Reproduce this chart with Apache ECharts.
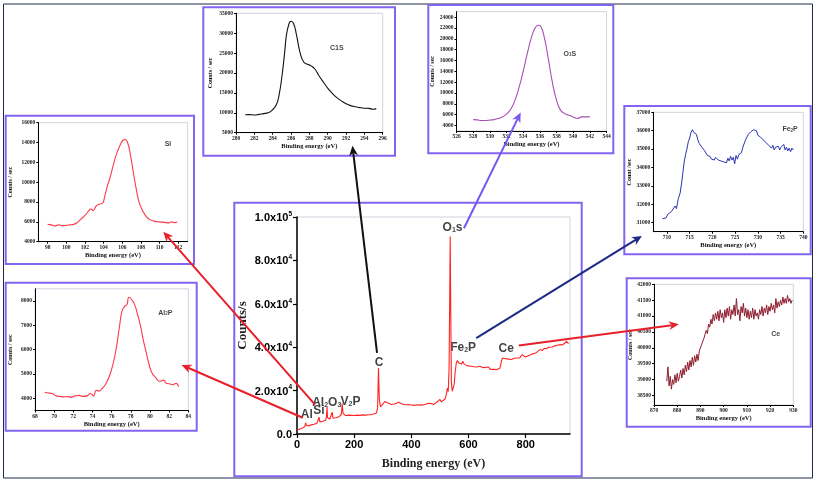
<!DOCTYPE html>
<html><head><meta charset="utf-8">
<script src="https://cdn.jsdelivr.net/npm/echarts@6/dist/echarts.min.js"></script>
<style>html,body{margin:0;padding:0;background:#fff}#c{width:817px;height:483px}</style>
</head><body><div id="c"></div>
<script>
// ---------- DATA ----------
const mainSurvey = [[0,1700],[5,2000],[10,2300],[15,2400],[20,2800],[25,3200],[28,3600],[30,5200],[32,4200],[35,3500],[40,3700],[45,3900],[50,4200],[55,4300],[60,4500],[65,4600],[70,5000],[74,5300],[77,7800],[80,5600],[85,5700],[90,5900],[95,6100],[100,6300],[103,8000],[105,12400],[107,7500],[110,6700],[115,6900],[120,7100],[123,10100],[126,7300],[130,7400],[135,7500],[140,7700],[145,7800],[150,8100],[155,9000],[158,14000],[161,9500],[165,8600],[170,8500],[180,8700],[190,8600],[200,8500],[210,8700],[220,8600],[230,8800],[240,8700],[250,8900],[260,8900],[270,9300],[278,9700],[282,12000],[285,30400],[288,16000],[292,12500],[298,13000],[302,14000],[307,15000],[311,15800],[315,14500],[320,13800],[330,13600],[340,13800],[348,14200],[355,14600],[360,14000],[370,13700],[380,13500],[390,13600],[400,13400],[410,13200],[420,13500],[430,13300],[440,13400],[450,13700],[460,14200],[465,14800],[470,14000],[477,13600],[485,14300],[492,15000],[500,15900],[505,14800],[510,15400],[518,16100],[522,18000],[526,21200],[529,19500],[532,30000],[534,60000],[536,91000],[538,55000],[540,24000],[543,19700],[547,18900],[550,23000],[553,28100],[557,32500],[561,33900],[565,32800],[571,31900],[576,32300],[580,33500],[585,32200],[590,31700],[594,31500],[600,31300],[610,31200],[620,31000],[629,30900],[640,31200],[650,30600],[660,30700],[664,30400],[670,30900],[676,29800],[682,29300],[690,29800],[699,29600],[705,30000],[710,30400],[713,30500],[716,34000],[719,35000],[725,34200],[734,34600],[740,34800],[750,34300],[760,34900],[769,35000],[775,35400],[780,35100],[787,36600],[793,35800],[799,35500],[805,36000],[815,36400],[822,36800],[828,37600],[835,37300],[843,38200],[851,38900],[858,38500],[865,39500],[872,39300],[880,40000],[886,40400],[893,40100],[900,40600],[910,40900],[921,41200],[928,41000],[935,41700],[939,41900],[943,42700],[946,41800],[950,41600]];
const mainXTicks = [0,200,400,600,800];
const mainYTicks = [0,20000,40000,60000,80000,100000];
const mainYTickLabels = ['0.0','2.0x10^4','4.0x10^4','6.0x10^4','8.0x10^4','1.0x10^5'];
const mainPeakLabels = [[544,95500,'O_1s'],[287,33100,'C'],[581,40300,'Fe_2P'],[732,39600,'Ce'],[104,15000,'Al_2O_3'],[77,11200,'Si'],[187,15300,'V_2P'],[34,9200,'Al']];

const c1sData = [[281.0,9500],[281.5,9550],[282.0,9450],[282.5,9600],[283.0,9800],[283.5,10000],[284.0,10800],[284.4,12000],[284.7,14500],[285.0,19000],[285.3,25000],[285.5,29500],[285.8,32500],[286.0,33000],[286.3,32300],[286.6,29500],[287.0,25000],[287.4,22700],[287.8,22200],[288.2,21800],[288.6,21000],[289.0,19500],[289.5,17800],[290.0,16200],[290.5,14900],[291.0,13800],[291.5,13000],[292.0,12300],[292.5,11800],[293.0,11500],[293.5,11300],[294.0,11150],[294.5,11100],[295.0,10900],[295.3,11100]];
const c1sXTicks = [280,282,284,286,288,290,292,294,296];
const c1sYTicks = [5000,10000,15000,20000,25000,30000,35000];

const o1sData = [[528.0,5100],[528.5,5050],[529.0,4950],[529.5,4950],[530.0,5000],[530.5,5100],[531.0,5300],[531.5,5600],[532.0,6100],[532.5,7000],[533.0,8600],[533.5,11000],[534.0,14000],[534.5,17300],[535.0,20300],[535.4,21900],[535.8,22500],[536.1,22300],[536.5,20500],[537.0,16500],[537.5,12000],[538.0,8700],[538.5,6800],[539.0,6200],[539.5,5900],[540.0,5600],[540.5,5300],[541.0,5600],[541.5,5600],[542.0,5650]];
const o1sXTicks = [526,528,530,532,534,536,538,540,542,544];
const o1sYTicks = [4000,6000,8000,10000,12000,14000,16000,18000,20000,22000,24000];

const fe2pData = [[709.0,31200],[709.4,31300],[709.8,31250],[710.2,31450],[710.6,31350],[711.0,31600],[711.4,31500],[711.8,31900],[712.1,31750],[712.5,32300],[712.9,32600],[713.2,33100],[713.5,33700],[713.8,34300],[714.1,34700],[714.4,35000],[714.7,35400],[715.0,35600],[715.3,35900],[715.6,36050],[715.9,35900],[716.2,36000],[716.5,35800],[716.8,35500],[717.1,35300],[717.4,35400],[717.7,35100],[718.0,35050],[718.3,34900],[718.6,34800],[718.9,34650],[719.2,34550],[719.5,34600],[719.8,34450],[720.1,34500],[720.4,34400],[720.7,34550],[721.0,34450],[721.3,34400],[721.6,34500],[721.9,34350],[722.2,34450],[722.5,34300],[722.8,34400],[723.1,34250],[723.4,34500],[723.7,34350],[724.0,34600],[724.3,34400],[724.6,34550],[724.9,34200],[725.2,34650],[725.5,34450],[725.8,34700],[726.1,34600],[726.4,34800],[726.7,35100],[727.0,35200],[727.3,35500],[727.6,35600],[727.9,35800],[728.2,35750],[728.5,35950],[728.8,35900],[729.1,36050],[729.4,35950],[729.7,36000],[730.0,35750],[730.3,35850],[730.6,35650],[730.9,35750],[731.2,35500],[731.5,35600],[731.8,35350],[732.1,35450],[732.4,35200],[732.7,35300],[733.0,35050],[733.3,35200],[733.6,34950],[733.9,35100],[734.2,35000],[734.5,35150],[734.8,34950],[735.1,35100],[735.4,35050],[735.7,35250],[736.0,34950],[736.3,35100],[736.6,34900],[736.9,35050],[737.2,34850],[737.5,35050],[737.8,34950]];
const fe2pXTicks = [710,715,720,725,730,735,740];
const fe2pYTicks = [31000,32000,33000,34000,35000,36000,37000];

const ceData = [[875.5,38950],[876.0,39400],[876.5,38800],[877.0,39100],[877.5,38700],[878.0,39000],[878.5,38850],[879.0,39150],[879.5,38900],[880.0,39200],[880.5,38950],[881.0,39100],[881.5,39300],[882.0,39050],[882.5,39350],[883.0,39150],[883.5,39450],[884.0,39250],[884.5,39550],[885.0,39300],[885.5,39600],[886.0,39400],[886.5,39700],[887.0,39450],[887.5,39750],[888.0,39550],[888.5,39800],[889.0,39600],[889.5,39900],[890.0,39850],[890.5,40100],[891.0,40050],[891.5,40300],[892.0,40250],[892.5,40550],[893.0,40450],[893.5,40750],[894.0,40650],[894.5,40900],[895.0,40750],[895.5,41050],[896.0,40850],[896.5,41100],[897.0,40900],[897.5,41150],[898.0,40850],[898.5,41200],[899.0,40950],[899.5,41100],[900.0,40800],[900.5,41200],[901.0,40950],[901.5,41250],[902.0,41000],[902.5,41300],[903.0,40900],[903.5,41200],[904.0,41050],[904.5,41350],[905.0,41000],[905.5,41550],[906.0,41050],[906.5,41200],[907.0,40850],[907.5,41300],[908.0,41100],[908.5,41400],[909.0,41000],[909.5,41250],[910.0,40950],[910.5,41200],[911.0,40900],[911.5,41150],[912.0,40950],[912.5,41250],[913.0,40900],[913.5,41200],[914.0,41000],[914.5,41100],[915.0,40900],[915.5,41200],[916.0,41050],[916.5,41300],[917.0,41000],[917.5,41250],[918.0,41100],[918.5,41350],[919.0,41050],[919.5,41300],[920.0,41150],[920.5,41400],[921.0,41200],[921.5,41350],[922.0,41100],[922.5,41550],[923.0,41250],[923.5,41450],[924.0,41300],[924.5,41500],[925.0,41350],[925.5,41600],[926.0,41400],[926.5,41550],[927.0,41400],[927.5,41650],[928.0,41450],[928.5,41550],[929.0,41400],[929.5,41500]];
const ceXTicks = [870,880,890,900,910,920,930];
const ceYTicks = [38500,39000,39500,40000,40500,41000,41500,42000];

const siData = [[98.0,5750],[98.4,5700],[98.8,5600],[99.2,5700],[99.6,5620],[100.0,5650],[100.4,5700],[100.8,5750],[101.2,5950],[101.6,6300],[102.0,6650],[102.4,7100],[102.6,7300],[102.9,7150],[103.2,7600],[103.6,7800],[103.9,7900],[104.1,8500],[104.4,9600],[104.7,10500],[105.0,11600],[105.4,12900],[105.8,13800],[106.1,14250],[106.3,14300],[106.6,13900],[106.9,12600],[107.2,10900],[107.5,9300],[107.8,8000],[108.2,7100],[108.6,6500],[109.0,6200],[109.5,6050],[110.0,6000],[110.5,5950],[111.0,5900],[111.3,6000],[111.6,5920],[111.9,6000]];
const siXTicks = [98,100,102,104,106,108,110,112];
const siYTicks = [4000,6000,8000,10000,12000,14000,16000];

const alData = [[69.0,4250],[69.4,4220],[69.8,4200],[70.2,4100],[70.6,4080],[71.0,4060],[71.4,4070],[71.8,4050],[72.2,4100],[72.6,4120],[73.0,4080],[73.4,4100],[73.8,4200],[74.1,4100],[74.4,4330],[74.7,4300],[75.0,4400],[75.4,4600],[75.8,4950],[76.2,5500],[76.5,6100],[76.8,6900],[77.1,7600],[77.4,7800],[77.6,7850],[77.8,8150],[78.1,8050],[78.4,7850],[78.7,7450],[79.0,7000],[79.3,6400],[79.6,5900],[79.9,5400],[80.2,5050],[80.6,4850],[81.0,4700],[81.4,4750],[81.7,4620],[82.0,4600],[82.4,4560],[82.7,4620],[83.0,4480]];
const alXTicks = [68,70,72,74,76,78,80,82,84];
const alYTicks = [4000,5000,6000,7000,8000];

// inset titles: [gridIndex, x, y, label]
const insetTitles = [[1,291,26600,'C1S'],[2,539.6,17400,'O_1S'],[3,737.1,36120,'Fe_2P'],[4,922.4,40460,'Ce'],[5,110.9,13950,'Si'],[6,81.6,7560,'Al_2P']];
// arrows: from main-chart point to inset point [targetGrid, mainX, mainY, insetX, insetY, color]
const arrows = [[1,280,37400,292.7,1700,'#111111'],[2,584,94800,533.7,6400,'#7a55f5'],[3,627,44200,704.5,30270,'#1c2a86'],[4,776,40800,880.7,40740,'#e8202a'],[5,63,13500,110.4,5000,'#e8202a'],[6,20,7500,83.3,5370,'#e8202a']];

// ---------- LAYOUT ----------
const grids = [
  {left:297, top:217, width:273, height:217},
  {left:236, top:13.3, width:146.7, height:119.4},
  {left:456.5, top:11.7, width:150, height:119.3},
  {left:653.3, top:112.3, width:150, height:119.4},
  {left:654, top:284.3, width:139.3, height:120.7},
  {left:38.3, top:122.7, width:149.3, height:119},
  {left:35, top:288.8, width:153.3, height:121.7}
];
const boxes = [[234.3,202.7,347.4,273.6],[203.3,7.3,191.7,148.4],[428.3,5,185,148.3],[624.3,106,186.4,148.3],[626.7,278.3,184,148.4],[5.7,115.7,188.3,148.3],[5.7,282.7,191,148]];

function rich(s){
  return s.split(/(_\d)/).filter(p=>p.length).map(p=>p[0]==='_'?'{sub|'+p.slice(1)+'}':'{n|'+p+'}').join('');
}
const serif = 'Liberation Serif';
const sans = 'Liberation Sans';

function insetAxes(g, xMin, xMax, xTicks, yMin, yMax, yTicks, yName, yGap, xGap){
  const lab = {fontSize:5.5, fontWeight:'bold', fontFamily:serif, color:'#222', margin:3, formatter:(v)=>String(v)};
  return {
    x:{gridIndex:g, type:'value', min:xMin, max:xMax,
      axisLine:{onZero:false, lineStyle:{color:'#000', width:1}},
      axisTick:{customValues:xTicks, length:2, lineStyle:{color:'#000'}},
      axisLabel:Object.assign({customValues:xTicks}, lab),
      splitLine:{show:false},
      name:'Binding energy (eV)', nameLocation:'middle', nameGap:xGap,
      nameTextStyle:{fontSize:6.5, fontWeight:'bold', fontFamily:serif, color:'#111'}},
    y:{gridIndex:g, type:'value', min:yMin, max:yMax,
      axisLine:{onZero:false, lineStyle:{color:'#000', width:1}},
      axisTick:{customValues:yTicks, length:2, lineStyle:{color:'#000'}},
      axisLabel:Object.assign({customValues:yTicks}, lab),
      splitLine:{show:false},
      name:yName, nameLocation:'middle', nameGap:yGap,
      nameTextStyle:{fontSize:6, fontWeight:'bold', fontFamily:serif, color:'#111'}}
  };
}
const ins = [
  insetAxes(1,280,296,c1sXTicks,5000,35000,c1sYTicks,'Counts / sec',23,10),
  insetAxes(2,526,544,o1sXTicks,3000,25000,o1sYTicks,'Counts / sec',20,10),
  insetAxes(3,707,740,fe2pXTicks,30500,37000,fe2pYTicks,'Count /sec',20,10),
  insetAxes(4,870,930,ceXTicks,38200,42000,ceYTicks,'Counts / sec',19,10),
  insetAxes(5,97,113,siXTicks,4000,16000,siYTicks,'Counts / sec',25,10),
  insetAxes(6,68,84,alXTicks,3500,8500,alYTicks,'Counts / sec',22,8)
];

const mainX = {gridIndex:0, type:'value', min:0, max:955,
  axisLine:{onZero:false, lineStyle:{color:'#000', width:1.5}},
  axisTick:{customValues:mainXTicks, length:4, lineStyle:{color:'#000', width:1.2}},
  axisLabel:{customValues:mainXTicks, fontSize:11, fontWeight:'bold', fontFamily:sans, color:'#000', margin:5},
  splitLine:{show:false},
  name:'Binding energy (eV)', nameLocation:'middle', nameGap:24,
  nameTextStyle:{fontSize:12, fontWeight:'bold', fontFamily:serif, color:'#222'}};
const mainY = {gridIndex:0, type:'value', min:0, max:100000,
  axisLine:{onZero:false, lineStyle:{color:'#000', width:1.5}},
  axisTick:{customValues:mainYTicks, length:4, lineStyle:{color:'#000', width:1.2}},
  axisLabel:{customValues:mainYTicks, margin:5,
    formatter:(v)=>{const i=mainYTicks.indexOf(v); const t=mainYTickLabels[i]||''; const p=t.split('^'); return p.length>1?'{b|'+p[0]+'}{sup|'+p[1]+'}':'{b|'+p[0]+'}';},
    rich:{b:{fontSize:11, fontWeight:'bold', fontFamily:sans, color:'#000', verticalAlign:'bottom', lineHeight:13},
          sup:{fontSize:6.5, fontWeight:'bold', fontFamily:sans, color:'#000', verticalAlign:'top', lineHeight:13}}},
  splitLine:{show:false},
  name:'Counts/s', nameLocation:'middle', nameGap:48,
  nameTextStyle:{fontSize:13, fontWeight:'bold', fontFamily:serif, color:'#222'}};

const labelRich = {
  n:{fontSize:12, fontWeight:'bold', fontFamily:sans, color:'#111', verticalAlign:'bottom', lineHeight:14},
  sub:{fontSize:7, fontWeight:'bold', fontFamily:sans, color:'#111', verticalAlign:'bottom', lineHeight:11}
};
const smallRich = {
  n:{fontSize:7, fontWeight:'bold', fontFamily:sans, color:'#111', verticalAlign:'bottom', lineHeight:9},
  sub:{fontSize:4.5, fontWeight:'bold', fontFamily:sans, color:'#111', verticalAlign:'bottom', lineHeight:7}
};

const lineS = (g, data, color, w, smooth) => ({type:'line', xAxisIndex:g, yAxisIndex:g, data:data, showSymbol:false, symbol:'none', smooth:smooth, lineStyle:{color:color, width:w}, silent:true, animation:false});

const series = [
  lineS(0, mainSurvey, '#ff2424', 1.1, false),
  lineS(1, c1sData, '#111111', 1.1, true),
  lineS(2, o1sData, '#a64fb3', 1.1, true),
  lineS(3, fe2pData, '#2b34b0', 1.0, false),
  lineS(4, ceData, '#8e1c2c', 1.0, false),
  lineS(5, siData, '#ff3848', 1.1, true),
  lineS(6, alData, '#ff3848', 1.1, true),
  {type:'scatter', xAxisIndex:0, yAxisIndex:0, symbolSize:0, silent:true, animation:false,
   data:mainPeakLabels.map(d=>({value:[d[0],d[1]], name:d[2]})),
   label:{show:true, position:'inside', formatter:(p)=>rich(p.name), rich:labelRich}}
];
insetTitles.forEach(t=>{
  series.push({type:'scatter', xAxisIndex:t[0], yAxisIndex:t[0], symbolSize:0, silent:true, animation:false,
    data:[{value:[t[1],t[2]], name:t[3]}],
    label:{show:true, position:'inside', formatter:(p)=>rich(p.name), rich:smallRich}});
});

const chart = echarts.init(document.getElementById('c'), null, {renderer:'canvas'});
chart.setOption({
  animation:false,
  backgroundColor:'#ffffff',
  grid:grids.map(g=>Object.assign({show:true, borderColor:'#cdd5dd', borderWidth:1, containLabel:false}, g)),
  xAxis:[mainX].concat(ins.map(a=>a.x)),
  yAxis:[mainY].concat(ins.map(a=>a.y)),
  series:series
});

// ---------- annotations: boxes + arrows ----------
const gfx = [];
gfx.push({type:'rect', shape:{x:3.5, y:4, width:809, height:474}, style:{fill:'none', stroke:'#1f2a48', lineWidth:1}, z:50});
boxes.forEach(b=>gfx.push({type:'rect', shape:{x:b[0], y:b[1], width:b[2], height:b[3]}, style:{fill:'none', stroke:'#8264f0', lineWidth:2}, z:50}));
arrows.forEach(a=>{
  const p0 = chart.convertToPixel({gridIndex:0}, [a[1],a[2]]);
  const p1 = chart.convertToPixel({gridIndex:a[0]}, [a[3],a[4]]);
  const dx=p1[0]-p0[0], dy=p1[1]-p0[1], L=Math.hypot(dx,dy), ux=dx/L, uy=dy/L;
  const hl=10, hw=4.5;
  const bx=p1[0]-ux*hl, by=p1[1]-uy*hl;
  gfx.push({type:'line', shape:{x1:p0[0], y1:p0[1], x2:bx+ux*3, y2:by+uy*3}, style:{stroke:a[5], lineWidth:2}, z:60});
  gfx.push({type:'polygon', shape:{points:[[p1[0],p1[1]],[bx-uy*hw,by+ux*hw],[bx+ux*3,by+uy*3],[bx+uy*hw,by-ux*hw]]}, style:{fill:a[5]}, z:60});
});
chart.setOption({graphic:{elements:gfx}});
</script>
</body></html>
